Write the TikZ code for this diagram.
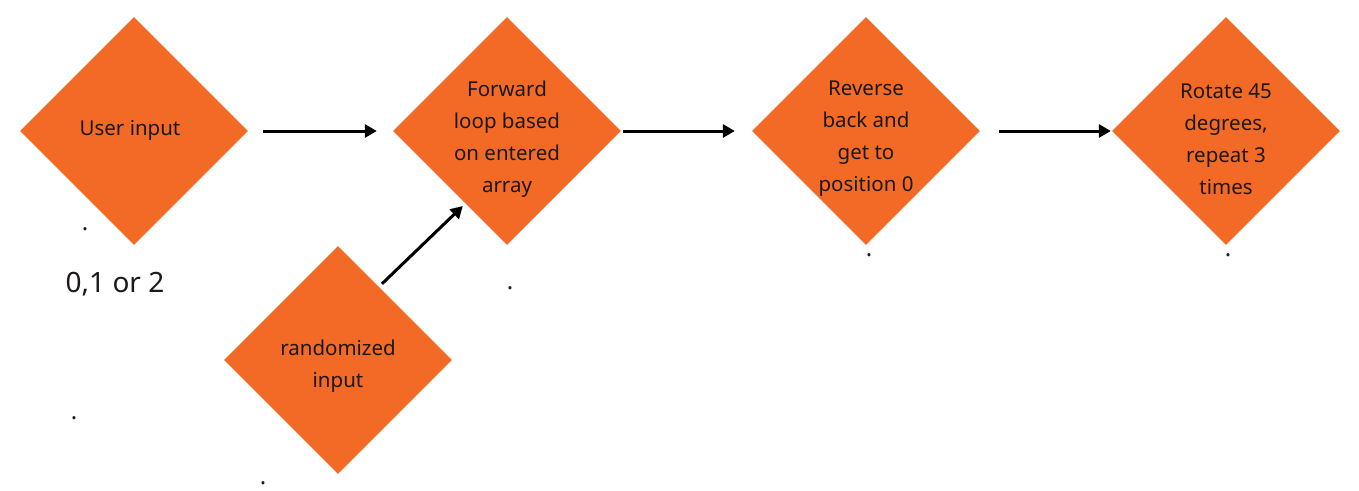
\documentclass[tikz,border=0pt]{standalone}
\usepackage{fontspec}
\setmainfont{Noto Sans}
\usetikzlibrary{shapes.geometric,arrows.meta,calc}
\definecolor{boxorange}{HTML}{F26A26}
\definecolor{ink}{HTML}{1C1818}
\begin{document}
\begin{tikzpicture}[x=1pt,y=-1pt,
  dia/.style={diamond,fill=boxorange,draw=none,minimum width=228pt,minimum height=228pt,inner sep=0pt,aspect=1},
  lbl/.style={align=center,text=ink,font=\fontsize{20.5}{32}\selectfont,inner sep=0pt},
  dotlbl/.style={text=ink,font=\fontsize{24}{24}\selectfont\bfseries,inner sep=0pt},
  conn/.style={line width=3pt,-{Triangle[length=12pt,width=13pt]}}]
\useasboundingbox (0,0) rectangle (1359,490);
\node[dia] (d1) at (134,131) {};
\node[dia] (d2) at (507,131) {};
\node[dia] (d3) at (866,131) {};
\node[dia] (d4) at (1226,131) {};
\node[dia] (d5) at (338,360) {};
\node[lbl] (t1) at (130,130) {User input};
\node[lbl] (t2) at (507,139) {Forward\\loop based\\on entered\\array};
\node[lbl] (t3) at (866,139) {Reverse\\back and\\get to\\position 0};
\node[lbl] (t4) at (1226,139) {Rotate 45\\degrees,\\repeat 3\\times};
\node[lbl] (t5) at (338,366) {randomized\\input};
\node[text=ink,font=\fontsize{28}{32}\selectfont,inner sep=0pt] (t6) at (115,284) {0,1 or 2};
\node[dotlbl] (p1) at (85,229) {.};
\node[dotlbl] (p2) at (74,418) {.};
\node[dotlbl] (p3) at (263,483) {.};
\node[dotlbl] (p4) at (510,288) {.};
\node[dotlbl] (p5) at (869,255) {.};
\node[dotlbl] (p6) at (1228,255) {.};
\draw[conn,shorten <=15pt,shorten >=16pt] (d1.east) -- (d2.west);
\draw[conn,shorten <=2pt,shorten >=17pt] (d2.east) -- (d3.west);
\draw[conn,shorten <=19pt,shorten >=1pt] (d3.east) -- (d4.west);
\draw[conn] ([shift={(44pt,-38pt)}]d5.north) -- ([shift={(70pt,-75pt)}]d2.west);
\end{tikzpicture}
\end{document}
